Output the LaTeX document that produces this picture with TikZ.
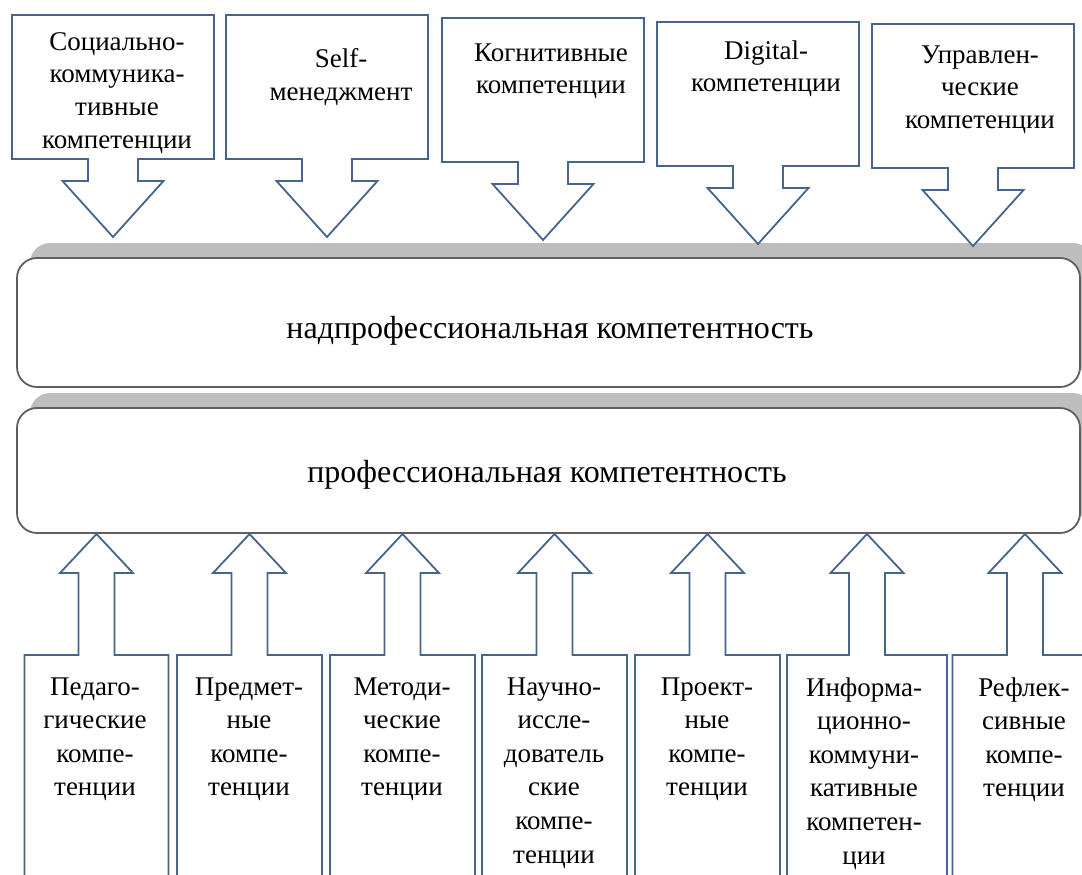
\documentclass[tikz,border=0pt]{standalone}
\usepackage{fontspec}
\setmainfont{Liberation Serif}
\definecolor{calloutline}{RGB}{70,100,140}
\definecolor{bandline}{RGB}{95,95,95}
\definecolor{bandshade}{RGB}{190,190,190}
\tikzset{px scale/.style={x=0.5pt, y=-0.5pt},
    callout/.style={draw=calloutline, line width=0.9pt, fill=white},
    band/.style={draw=bandline, line width=0.9pt, fill=white, rounded corners=10pt},
    band shade/.style={fill=bandshade, rounded corners=10pt},
    top label/.style={anchor=north, align=center, inner sep=0pt,
        font=\fontsize{13.5}{16.3}\selectfont},
    bottom label/.style={anchor=north, align=center, inner sep=0pt,
        font=\fontsize{13.5}{16.8}\selectfont},
    band label/.style={inner sep=0pt, font=\fontsize{16}{19}\selectfont}
}

\begin{document}
\begin{tikzpicture}[px scale]
    \useasboundingbox (0,0) rectangle (1082,874);
    \clip (0,0) rectangle (1082,874);
    % Bands
    \fill[band shade] (30,243) rectangle (1093,372);
    \node[band, minimum width=531.5pt, minimum height=64.5pt] (nadband) at (548.5,322.5) {};
    \fill[band shade] (30,393) rectangle (1093,518);
    \node[band, minimum width=531.5pt, minimum height=62.5pt] (profband) at (548.5,470.5) {};
    \node[band label] (nadtext) at (550,331) {надпрофессиональная компетентность};
    \node[band label] (proftext) at (547,475) {профессиональная компетентность};
    % Callouts
    \foreach \bx/\by in {12/15, 226/15, 442/18, 657/22, 872/24}
        \draw[callout] (\bx,\by) -- ++(202,0) -- ++(0,144) -- ++(-76,0) -- ++(0,22)
            -- ++(25.5,0) -- ++(-50.5,56) -- ++(-50.5,-56) -- ++(25.5,0)
            -- ++(0,-22) -- ++(-76,0) -- cycle;
    \foreach \cx/\hw in {96.5/72, 249.5/72.5, 402.5/72.5, 554.5/72.5, 707.5/72.5, 867/80, 1025/72.5}
        \draw[callout] ({\cx-\hw},900) |- ({\cx-18},655) -- ({\cx-18},573)
            -- ({\cx-36.5},573) -- (\cx,534) -- ({\cx+36.5},573) -- ({\cx+18},573)
            -- ({\cx+18},655) -| ({\cx+\hw},900);
    % Labels
    \node[top label] (soc) at (117,32) {Социально-\\коммуника-\\тивные\\компетенции};
    \node[top label] (self) at (341,48) {Self-\\менеджмент};
    \node[top label] (cogn) at (551,43) {Когнитивные\\компетенции};
    \node[top label] (digit) at (766,40) {Digital-\\компетенции};
    \node[top label] (manag) at (980,45) {Управлен-\\ческие\\компетенции};
    \node[bottom label] (ped) at (95,677) {Педаго-\\гические\\компе-\\тенции};
    \node[bottom label] (subj) at (249,677) {Предмет-\\ные\\компе-\\тенции};
    \node[bottom label] (meth) at (402,677) {Методи-\\ческие\\компе-\\тенции};
    \node[bottom label] (research) at (554,677) {Научно-\\иссле-\\дователь\\ские\\компе-\\тенции};
    \node[bottom label] (proj) at (707,677) {Проект-\\ные\\компе-\\тенции};
    \node[bottom label] (infocom) at (864,677) {Информа-\\ционно-\\коммуни-\\кативные\\компетен-\\ции};
    \node[bottom label] (reflex) at (1024,677) {Рефлек-\\сивные\\компе-\\тенции};
\end{tikzpicture}
\end{document}
